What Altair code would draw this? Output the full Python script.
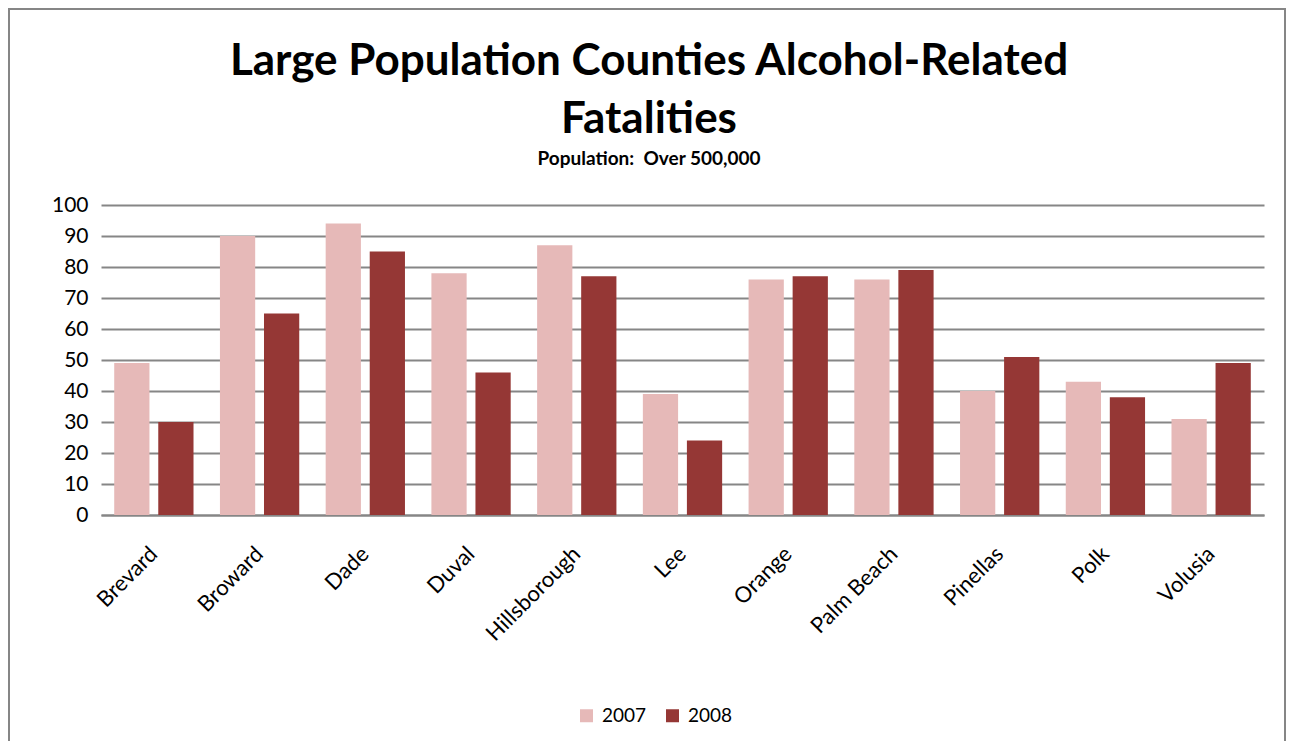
import altair as alt
import pandas as pd

counties = ["Brevard", "Broward", "Dade", "Duval", "Hillsborough", "Lee",
            "Orange", "Palm Beach", "Pinellas", "Polk", "Volusia"]
fatal_2007 = [49, 90, 94, 78, 87, 39, 76, 76, 40, 43, 31]
fatal_2008 = [30, 65, 85, 46, 77, 24, 77, 79, 51, 38, 49]
years = ["2007", "2008"]
colors = ["#E6B9B8", "#953735"]
title_lines = ["Large Population Counties Alcohol-Related", "Fatalities"]
subtitle = "Population:\u00a0 Over 500,000"

rows = []
for c, a, b in zip(counties, fatal_2007, fatal_2008):
    rows.append({"County": c, "Year": years[0], "Value": a})
    rows.append({"County": c, "Year": years[1], "Value": b})
df = pd.DataFrame(rows)

W, H = 1163, 310
PL, PT, PR, PB = 93, 197, 22, 226
FONT = "Lato"
GRID = "#868686"

bars = alt.Chart(df).mark_bar().encode(
    x=alt.X("County:N", sort=counties,
            scale=alt.Scale(paddingInner=0.25, paddingOuter=0.125),
            axis=alt.Axis(title=None, labelAngle=-45, labelAlign="right",
                          labelBaseline="middle", labelFontSize=22,
                          labelFont=FONT, labelColor="black", ticks=False,
                          domainColor=GRID, domainWidth=2, labelPadding=35,
                          grid=False)),
    xOffset=alt.XOffset("Year:N", sort=years, scale=alt.Scale(paddingInner=0.2)),
    y=alt.Y("Value:Q", scale=alt.Scale(domain=[0, 100]),
            axis=alt.Axis(values=list(range(0, 101, 10)), title=None,
                          domain=False, ticks=False, gridColor=GRID,
                          gridWidth=2, gridOpacity=1, labelFontSize=21,
                          labelFont=FONT, labelColor="black", labelPadding=13)),
    color=alt.Color("Year:N",
                    scale=alt.Scale(domain=years, range=colors),
                    legend=alt.Legend(title=None, orient="none", legendX=476,
                                      legendY=501, direction="horizontal",
                                      symbolType="square", symbolSize=169,
                                      symbolStrokeWidth=0,
                                      labelFontSize=19, labelFont=FONT,
                                      labelColor="black", columnPadding=16,
                                      labelOffset=6)),
)

title_df = pd.DataFrame({"t": [title_lines[0]], "t2": [title_lines[1]], "s": [subtitle]})
base_t = alt.Chart(title_df)
t1 = base_t.mark_text(font=FONT, fontSize=44, fontWeight="bold", color="black",
                      align="center", baseline="middle").encode(
    text="t:N", x=alt.value(548), y=alt.value(-143))
t2 = base_t.mark_text(font=FONT, fontSize=44, fontWeight="bold", color="black",
                      align="center", baseline="middle").encode(
    text="t2:N", x=alt.value(548), y=alt.value(-85))
t3 = base_t.mark_text(font=FONT, fontSize=19, fontWeight="bold", color="black",
                      align="center", baseline="middle").encode(
    text="s:N", x=alt.value(548), y=alt.value(-46))

frame = base_t.mark_rect(fillOpacity=0, stroke=GRID, strokeWidth=2).encode(
    x=alt.value(-92), x2=alt.value(1184), y=alt.value(-196), y2=alt.value(600))

chart = alt.layer(frame, bars, t1, t2, t3).properties(
    width=W, height=H,
    autosize=alt.AutoSizeParams(type="none"),
    padding={"left": PL, "top": PT, "right": PR, "bottom": PB},
).configure(background="white", view=alt.ViewConfig(stroke=None))

chart.save("out.html", embed_options={"renderer": "svg", "actions": False})
